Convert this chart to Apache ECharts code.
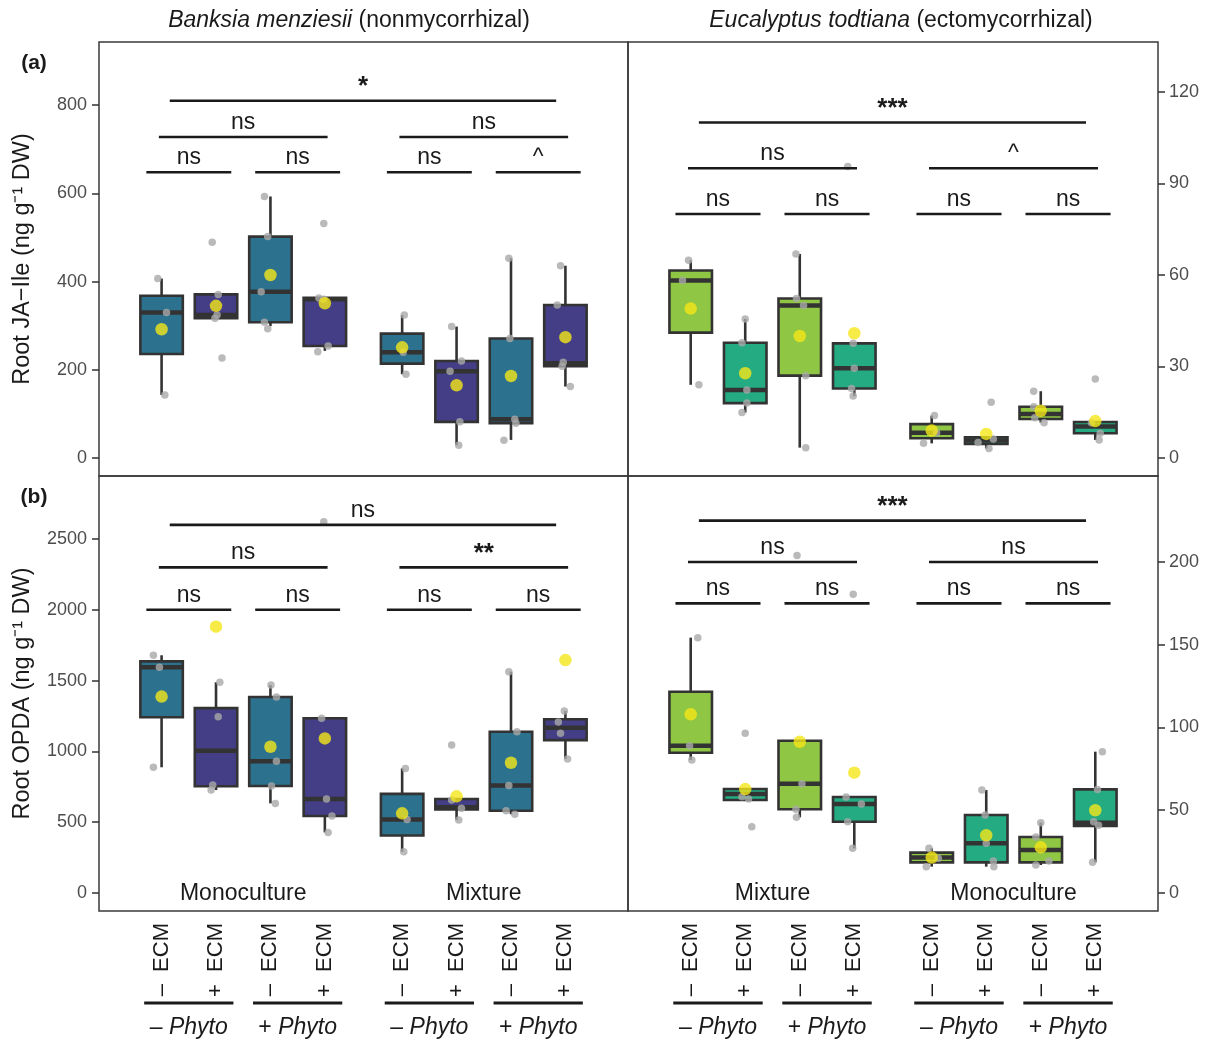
<!DOCTYPE html>
<html><head><meta charset="utf-8">
<script src="https://cdn.jsdelivr.net/npm/echarts@6/dist/echarts.min.js"></script>
<style>html,body{margin:0;padding:0;background:#fff}#c{width:1210px;height:1042px}</style>
</head><body><div id="c"></div>
<script>
// ================= DATA =================
const ecmLabels = ['\u2013  ECM', '+  ECM', '\u2013  ECM', '+  ECM', '\u2013  ECM', '+  ECM', '\u2013  ECM', '+  ECM'];
const phytoLabels = ['\u2013', '+', '\u2013', '+'];
const groupLabelsBanksia = ['Monoculture', 'Mixture'];
const groupLabelsEuc = ['Mixture', 'Monoculture'];

const ticksJaBanksia = [0, 200, 400, 600, 800];
const ticksJaEuc = [0, 30, 60, 90, 120];
const ticksOpdaBanksia = [0, 500, 1000, 1500, 2000, 2500];
const ticksOpdaEuc = [0, 50, 100, 150, 200];

// ---- (a) Root JA-Ile, Banksia menziesii ----  box stats: [min, q1, median, q3, max]
const jaBanksiaBox = [[143, 236, 330, 368, 407], [317, 317, 324, 371, 371], [299, 308, 377, 502, 593], [243, 254, 360, 363, 363],
  [190, 214, 240, 282, 324], [29, 82, 197, 220, 298], [41, 79, 88, 271, 453], [162, 208, 215, 347, 436]];
const jaBanksiaMean = [292, 345, 415, 351, 251, 165, 186, 274];
const jaBanksiaPts = [[407, 330, 143], [489, 371, 324, 317, 227], [593, 502, 377, 308, 293], [532, 363, 360, 254, 241],
  [324, 240, 190], [298, 220, 197, 82, 29], [453, 271, 88, 79, 40], [436, 347, 217, 208, 162]];
const jaBanksiaJit = [[-0.07, 0.09, 0.06], [-0.07, 0.04, 0.02, -0.02, 0.11], [-0.11, -0.05, -0.17, -0.11, -0.05], [-0.02, -0.11, -0.02, 0.06, -0.13],
  [0.04, 0.02, 0.07], [-0.09, 0.09, -0.12, 0.06, 0.04], [-0.04, -0.02, 0.07, 0.09, -0.13], [-0.09, -0.15, -0.04, -0.06, 0.09]];
const jaBanksiaSigLevels = [810, 728, 648];
const jaBanksiaSig = ['*', 'ns', 'ns', 'ns', 'ns', 'ns', '^'];

// ---- (a) Root JA-Ile, Eucalyptus todtiana ----
const jaEucBox = [[24, 41.1, 58.2, 61.5, 64.8], [14.9, 18, 22.3, 37.8, 45.6], [3.4, 27, 50, 52.3, 66.9], [20.3, 22.8, 29.4, 37.6, 37.6],
  [4.8, 6.5, 8.3, 11.1, 13.9], [3.1, 4.6, 5.7, 6.8, 6.8], [11.6, 12.8, 14.4, 16.8, 21.9], [5.9, 8.1, 10.3, 11.8, 11.8]];
const jaEucMean = [49, 27.8, 40, 40.9, 9, 7.9, 15.5, 12.1];
const jaEucPts = [[64.8, 58.2, 24], [45.6, 37.8, 22.3, 18, 14.9], [66.9, 52.3, 50, 27, 3.4], [95.6, 37.6, 29.4, 22.8, 20.3],
  [13.9, 8.3, 4.8], [18.3, 6.2, 5.1, 3.1], [21.9, 16.8, 13.2, 11.6], [25.9, 11.6, 8.1, 5.9]];
const jaEucJit = [[-0.04, -0.15, 0.15], [0, -0.06, 0.03, 0.03, -0.06], [-0.07, -0.06, 0.07, 0.11, 0.11], [-0.12, -0.02, 0, -0.05, -0.02],
  [0.05, 0.09, -0.15], [0.09, 0.13, -0.15, 0.05], [-0.13, -0.13, -0.11, 0.06], [0, -0.07, 0.09, 0.07]];
const jaEucSigLevels = [110, 95, 80];
const jaEucSig = ['***', 'ns', '^', 'ns', 'ns', 'ns', 'ns'];

// ---- (b) Root OPDA, Banksia menziesii ----
const opdaBanksiaBox = [[888, 1241, 1594, 1636, 1679], [727, 754, 1004, 1306, 1488], [633, 756, 930, 1384, 1469], [428, 544, 664, 1234, 1234],
  [292, 406, 520, 700, 880], [515, 591, 605, 664, 664], [556, 581, 760, 1139, 1563], [946, 1080, 1168, 1227, 1285]];
const opdaBanksiaMean = [1387, 1881, 1033, 1092, 563, 683, 920, 1645];
const opdaBanksiaPts = [[1679, 1594, 888], [1488, 1245, 763, 727], [1469, 1384, 930, 756, 633], [2622, 1234, 664, 544, 428],
  [880, 520, 292], [1045, 657, 598, 515], [1563, 1139, 760, 581, 556], [1285, 1208, 1128, 946]];
const opdaBanksiaJit = [[-0.15, -0.04, -0.15], [0.07, 0.04, -0.06, -0.09], [0.01, 0.11, 0.11, 0.02, 0.09], [-0.02, -0.06, 0.03, 0.13, 0.06],
  [0.06, 0.09, 0.03], [-0.09, -0.09, 0.09, 0.04], [-0.04, 0.11, -0.04, -0.09, 0.07], [-0.02, -0.13, -0.09, 0.04]];
const opdaBanksiaSigLevels = [2600, 2300, 2000];
const opdaBanksiaSig = ['ns', 'ns', '**', 'ns', 'ns', 'ns', 'ns'];

// ---- (b) Root OPDA, Eucalyptus todtiana ----
const opdaEucBox = [[80.4, 84.7, 89, 121.6, 154.3], [56.2, 56.2, 59.8, 62.8, 62.8], [45.7, 50.6, 66, 92, 92], [27, 43, 53.8, 58, 58],
  [15.9, 18.5, 21.4, 24.4, 27], [15.9, 18.5, 30, 47.1, 62.2], [16.9, 18.5, 26, 33.8, 42.5], [18.5, 40.5, 42.5, 62.6, 85.4]];
const opdaEucMean = [108, 62.8, 91.4, 72.7, 21.4, 34.9, 27.6, 50];
const opdaEucPts = [[154.3, 89, 80.4], [96.5, 58.2, 56.8, 40], [204, 66, 50.6, 45.7], [180.6, 58, 53.8, 43, 27],
  [27, 21, 15.9], [62.2, 47.1, 30, 19.3, 15.9], [42.5, 33.8, 19.3, 16.9], [85.4, 62.6, 43, 41, 18.5]];
const opdaEucJit = [[0.13, -0.02, 0.02], [0, -0.06, 0.06, 0.12], [-0.05, 0.04, -0.07, -0.06], [-0.02, -0.15, 0.13, -0.12, -0.03],
  [-0.05, 0.12, -0.1], [-0.08, -0.02, 0, 0.13, 0.14], [0, -0.09, 0.15, -0.09], [0.13, 0.04, -0.03, 0.06, -0.05]];
const opdaEucSigLevels = [225, 200, 175];
const opdaEucSig = ['***', 'ns', 'ns', 'ns', 'ns', 'ns', 'ns'];

// ================= LAYOUT / STYLE =================
const FONT = '"Liberation Sans", Arial, Helvetica, sans-serif';
const TXT = '#1a1a1a';
const TICK = '#4d4d4d';
const xPos = [1, 2, 3, 4, 5.42, 6.42, 7.42, 8.42];
const XMIN = -0.15, XMAX = 9.57;
const banksiaColors = ['#2C728E', '#433E85'];
const eucColors = ['#8FC744', '#25AB82'];
const BOXW = 0.78;

const grids = [
  { left: 99, top: 42, width: 529, height: 434 },
  { left: 628, top: 42, width: 530, height: 434 },
  { left: 99, top: 476, width: 529, height: 435 },
  { left: 628, top: 476, width: 530, height: 435 }
];
const yRanges = [[-40.8, 943.3], [-5.9, 136.4], [-127, 2945], [-10.9, 252]];

const panels = [
  { box: jaBanksiaBox, mean: jaBanksiaMean, pts: jaBanksiaPts, jit: jaBanksiaJit, colors: banksiaColors, lev: jaBanksiaSigLevels, sig: jaBanksiaSig, ticks: ticksJaBanksia, groups: null },
  { box: jaEucBox, mean: jaEucMean, pts: jaEucPts, jit: jaEucJit, colors: eucColors, lev: jaEucSigLevels, sig: jaEucSig, ticks: ticksJaEuc, groups: null },
  { box: opdaBanksiaBox, mean: opdaBanksiaMean, pts: opdaBanksiaPts, jit: opdaBanksiaJit, colors: banksiaColors, lev: opdaBanksiaSigLevels, sig: opdaBanksiaSig, ticks: ticksOpdaBanksia, groups: groupLabelsBanksia },
  { box: opdaEucBox, mean: opdaEucMean, pts: opdaEucPts, jit: opdaEucJit, colors: eucColors, lev: opdaEucSigLevels, sig: opdaEucSig, ticks: ticksOpdaEuc, groups: groupLabelsEuc }
];

function bracketSpans(lev) {
  return [
    [xPos[0] + 0.15, xPos[7] - 0.17, lev[0]],
    [xPos[0] - 0.05, xPos[3] + 0.05, lev[1]],
    [xPos[4] - 0.05, xPos[7] + 0.05, lev[1]],
    [xPos[0] - 0.28, xPos[1] + 0.28, lev[2]],
    [xPos[2] - 0.28, xPos[3] + 0.28, lev[2]],
    [xPos[4] - 0.28, xPos[5] + 0.28, lev[2]],
    [xPos[6] - 0.28, xPos[7] + 0.28, lev[2]]
  ];
}

const series = [];
const xAxes = [], yAxes = [];

panels.forEach((p, gi) => {
  const isBottom = gi >= 2, isRight = gi % 2 === 1;
  xAxes.push({
    type: 'value', gridIndex: gi, min: XMIN, max: XMAX, position: 'bottom',
    axisLine: { show: false, onZero: false }, axisTick: { show: false }, splitLine: { show: false },
    axisLabel: isBottom ? {
      show: true, customValues: xPos, rotate: 90, margin: 12,
      formatter: (v, i) => { const k = xPos.indexOf(v); return ecmLabels[k >= 0 ? k : i]; },
      fontSize: 22, color: TXT, fontFamily: FONT
    } : { show: false }
  });
  const ya = {
    type: 'value', gridIndex: gi, min: yRanges[gi][0], max: yRanges[gi][1],
    position: isRight ? 'right' : 'left',
    axisLine: { show: false, onZero: false }, splitLine: { show: false },
    axisTick: { show: true, inside: false, customValues: p.ticks, length: 7, lineStyle: { color: '#333', width: 1.5 } },
    axisLabel: { show: true, customValues: p.ticks, formatter: v => String(v), fontSize: 18, color: TICK, fontFamily: FONT, margin: isRight ? 11 : 12 }
  };
  if (!isRight) {
    ya.name = gi === 0 ? 'Root JA\u2212Ile (ng g\u207B\u00B9 DW)' : 'Root OPDA (ng g\u207B\u00B9 DW)';
    ya.nameLocation = 'middle'; ya.nameRotate = 90; ya.nameGap = 64;
    ya.nameTextStyle = { fontSize: 23.5, color: TXT, fontFamily: FONT };
  }
  yAxes.push(ya);

  // boxes
  const boxData = p.box.map((b, i) => [xPos[i], b[0], b[1], b[2], b[3], b[4], i % 2]);
  const cols = p.colors;
  series.push({
    type: 'custom', xAxisIndex: gi, yAxisIndex: gi, z: 2, silent: true, animation: false,
    data: boxData,
    renderItem: (params, api) => {
      const x = api.value(0);
      const pMin = api.coord([x, api.value(1)]), pQ1 = api.coord([x, api.value(2)]), pMed = api.coord([x, api.value(3)]);
      const pQ3 = api.coord([x, api.value(4)]), pMax = api.coord([x, api.value(5)]);
      const half = api.size([BOXW, 0])[0] / 2;
      const cx = pQ1[0];
      const st = { stroke: '#333', lineWidth: 2.6 };
      return {
        type: 'group', children: [
          { type: 'line', shape: { x1: cx, y1: pMax[1], x2: cx, y2: pQ3[1] }, style: st },
          { type: 'line', shape: { x1: cx, y1: pQ1[1], x2: cx, y2: pMin[1] }, style: st },
          { type: 'rect', shape: { x: cx - half, y: pQ3[1], width: half * 2, height: pQ1[1] - pQ3[1] }, style: { fill: cols[api.value(6)], stroke: '#333', lineWidth: 2.6 } },
          { type: 'line', shape: { x1: cx - half, y1: pMed[1], x2: cx + half, y2: pMed[1] }, style: { stroke: '#333', lineWidth: 4.5 } }
        ]
      };
    }
  });
  // points
  const ptData = [];
  p.pts.forEach((arr, i) => arr.forEach((v, k) => ptData.push([xPos[i] + p.jit[i][k], v])));
  series.push({
    type: 'scatter', xAxisIndex: gi, yAxisIndex: gi, z: 3, silent: true, animation: false,
    symbolSize: 7.5, itemStyle: { color: '#A9A9A9' }, data: ptData
  });
  // means
  series.push({
    type: 'scatter', xAxisIndex: gi, yAxisIndex: gi, z: 4, silent: true, animation: false,
    symbolSize: 12.5, itemStyle: { color: '#F4E619' }, data: p.mean.map((m, i) => [xPos[i], m])
  });
  // significance brackets
  const spans = bracketSpans(p.lev);
  const sig = p.sig;
  series.push({
    type: 'custom', xAxisIndex: gi, yAxisIndex: gi, z: 5, silent: true, animation: false,
    data: spans.map((s, i) => [s[0], s[1], s[2], i]),
    renderItem: (params, api) => {
      const a = api.coord([api.value(0), api.value(2)]), b = api.coord([api.value(1), api.value(2)]);
      const lab = sig[api.value(3)];
      const star = lab.indexOf('*') >= 0;
      return {
        type: 'group', children: [
          { type: 'line', shape: { x1: a[0], y1: a[1], x2: b[0], y2: b[1] }, style: { stroke: '#1a1a1a', lineWidth: 2.6 } },
          { type: 'text', style: { text: lab, x: (a[0] + b[0]) / 2, y: a[1] - (star ? 1 : 3), align: 'center', verticalAlign: 'bottom',
              fontSize: star ? 26 : 23, fontWeight: star ? 'bold' : 'normal', fontFamily: FONT, fill: '#1a1a1a' } }
        ]
      };
    }
  });
  // group labels inside bottom panels
  if (p.groups) {
    const gl = p.groups;
    series.push({
      type: 'custom', xAxisIndex: gi, yAxisIndex: gi, z: 5, silent: true, animation: false,
      data: [[(xPos[0] + xPos[3]) / 2, 0, 0], [(xPos[4] + xPos[7]) / 2, 0, 1]],
      renderItem: (params, api) => {
        const c = api.coord([api.value(0), api.value(1)]);
        return { type: 'text', style: { text: gl[api.value(2)], x: c[0], y: c[1] + 1, align: 'center', verticalAlign: 'middle',
          fontSize: 23, fontFamily: FONT, fill: TXT } };
      }
    });
    // phyto underline + labels below axis
    series.push({
      type: 'custom', xAxisIndex: gi, yAxisIndex: gi, z: 5, silent: true, animation: false, clip: false,
      data: [[xPos[0] - 0.32, xPos[1] + 0.32, 0], [xPos[2] - 0.32, xPos[3] + 0.32, 1], [xPos[4] - 0.32, xPos[5] + 0.32, 2], [xPos[6] - 0.32, xPos[7] + 0.32, 3]],
      renderItem: (params, api) => {
        const cs = params.coordSys;
        const base = cs.y + cs.height;
        const a = api.coord([api.value(0), 0]), b = api.coord([api.value(1), 0]);
        const sign = phytoLabels[api.value(2)];
        return {
          type: 'group', children: [
            { type: 'line', shape: { x1: a[0], y1: base + 92, x2: b[0], y2: base + 92 }, style: { stroke: '#1a1a1a', lineWidth: 3 } },
            { type: 'text', style: { text: '{n|' + sign + ' }{i|Phyto}', x: (a[0] + b[0]) / 2, y: base + 117, align: 'center', verticalAlign: 'middle',
                rich: { n: { fontSize: 23, fontFamily: FONT, fill: TXT }, i: { fontSize: 23, fontStyle: 'italic', fontFamily: FONT, fill: TXT } } } }
          ]
        };
      }
    });
  }
});

const option = {
  animation: false,
  backgroundColor: '#ffffff',
  textStyle: { fontFamily: FONT },
  grid: grids.map(g => Object.assign({ show: true, borderColor: '#3a3a3a', borderWidth: 1.5, backgroundColor: 'transparent', containLabel: false }, g)),
  xAxis: xAxes,
  yAxis: yAxes,
  series: series,
  graphic: [
    { type: 'text', x: 349, y: 21, style: { text: '{i|Banksia menziesii} (nonmycorrhizal)', align: 'center', verticalAlign: 'middle', fontSize: 23, fontFamily: FONT, fill: TXT,
      rich: { i: { fontStyle: 'italic', fontSize: 23, fontFamily: FONT, fill: TXT } } } },
    { type: 'text', x: 901, y: 21, style: { text: '{i|Eucalyptus todtiana} (ectomycorrhizal)', align: 'center', verticalAlign: 'middle', fontSize: 23, fontFamily: FONT, fill: TXT,
      rich: { i: { fontStyle: 'italic', fontSize: 23, fontFamily: FONT, fill: TXT } } } },
    { type: 'text', x: 34, y: 63, style: { text: '(a)', align: 'center', verticalAlign: 'middle', fontSize: 21, fontWeight: 'bold', fontFamily: FONT, fill: TXT } },
    { type: 'text', x: 34, y: 497, style: { text: '(b)', align: 'center', verticalAlign: 'middle', fontSize: 21, fontWeight: 'bold', fontFamily: FONT, fill: TXT } }
  ]
};

const chart = echarts.init(document.getElementById('c'));
chart.setOption(option);
</script></body></html>
